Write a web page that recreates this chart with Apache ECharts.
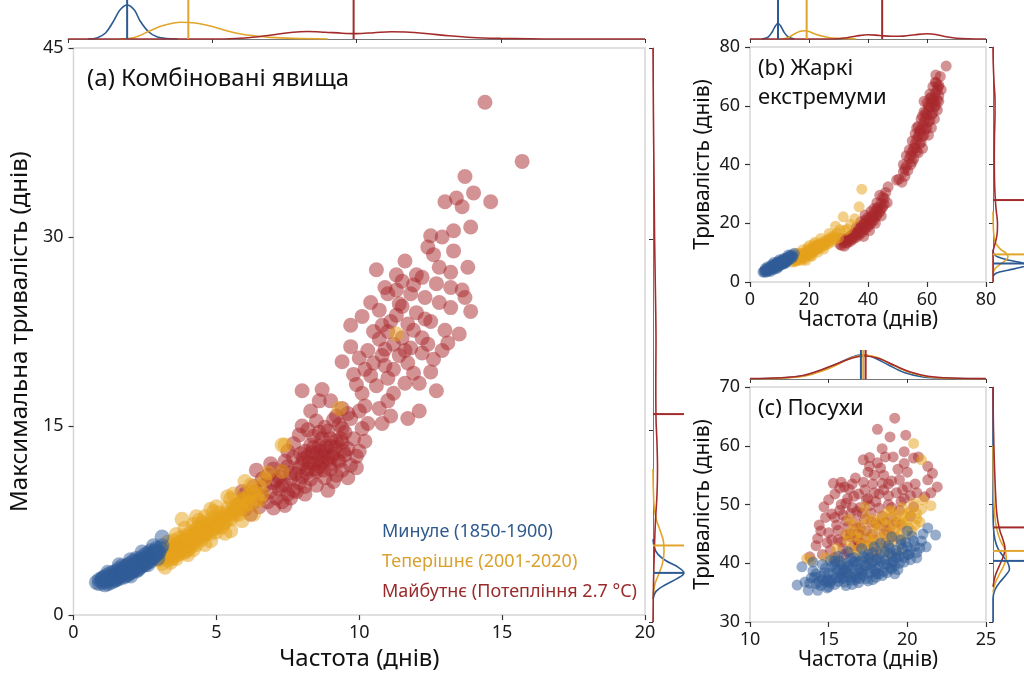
<!DOCTYPE html>
<html><head><meta charset="utf-8">
<script src="https://cdn.jsdelivr.net/npm/echarts/dist/echarts.min.js"></script>
<style>html,body{margin:0;padding:0;background:#fff}#c{width:1024px;height:676px}</style>
</head><body><div id="c"></div><script>
// ---------------- DATA ----------------
const groupNames = ['Минуле (1850-1900)', 'Теперішнє (2001-2020)', 'Майбутнє (Потепління 2.7 °C)'];

// Panel (a) combined events: [frequency, max duration]
const aPast = [[0.8,2.6],[0.9,2.8],[1.0,2.9],[1.1,2.4],[1.1,3.0],[1.2,2.8],[1.2,3.2],[1.3,2.9],[1.3,3.3],[1.4,3.0],[1.4,3.4],[1.5,3.1],[1.5,3.5],[1.5,2.8],[1.6,3.3],[1.6,3.7],[1.7,3.2],[1.7,3.6],[1.7,3.9],[1.8,3.4],[1.8,3.8],[1.9,3.5],[1.9,4.0],[1.9,3.2],[2.0,3.7],[2.0,4.1],[2.0,3.4],[2.1,3.9],[2.1,4.3],[2.1,3.5],[2.2,3.8],[2.2,4.2],[2.2,4.5],[2.3,4.0],[2.3,4.4],[2.3,3.7],[2.4,4.2],[2.4,4.6],[2.4,3.9],[2.5,4.4],[2.5,4.8],[2.5,4.0],[2.6,4.5],[2.6,4.9],[2.6,4.2],[2.7,4.7],[2.7,4.3],[2.7,5.1],[2.8,4.6],[2.8,5.0],[2.9,4.8],[2.9,5.3],[3.0,5.0],[3.1,5.5],[3.1,6.2],[1.2,2.5],[1.6,2.9],[2.0,3.1],[1.0,2.6],[1.3,2.6],
 [0.9,2.5],[1.0,2.8],[1.05,3.0],[1.15,2.7],[1.25,3.0],[1.35,3.1],[1.45,3.2],[1.45,2.8],[1.55,3.3],[1.55,3.0],[1.65,3.5],[1.65,3.1],[1.75,3.4],[1.75,3.0],[1.85,3.6],[1.85,3.9],[1.95,3.7],[1.95,3.3],[2.05,3.8],[2.05,3.5],[2.15,4.0],[2.15,3.7],[2.25,4.1],[2.25,3.6],[2.35,4.3],[2.35,3.9],[2.45,4.4],[2.45,4.0],[2.55,4.6],[2.55,4.2],[2.65,4.7],[2.65,4.4],[2.75,4.9],[2.75,4.5],[2.85,5.1],[2.85,4.7],[2.95,5.0],[2.95,4.5],[3.05,5.3],[1.4,2.7],[1.8,3.1],[2.2,3.5],[2.6,4.0],[2.0,4.4],[1.6,4.0],[2.4,5.0],[2.8,5.5],[1.2,3.4]];
const aPresent = [[3.0,4.4],[3.1,4.1],[3.2,3.8],[3.2,4.7],[3.2,5.2],[3.3,4.4],[3.3,5.0],[3.4,4.8],[3.4,5.5],[3.5,4.6],[3.5,5.2],[3.5,5.9],[3.6,5.0],[3.6,5.6],[3.6,6.4],[3.7,4.9],[3.7,5.4],[3.7,6.1],[3.8,5.2],[3.8,5.8],[3.8,7.6],[3.9,5.5],[3.9,6.3],[3.9,5.0],[4.0,5.7],[4.0,6.2],[4.0,5.2],[4.0,4.8],[4.1,6.0],[4.1,6.6],[4.1,5.4],[4.2,5.8],[4.2,6.4],[4.2,7.2],[4.3,6.1],[4.3,6.8],[4.3,5.6],[4.3,7.8],[4.4,6.3],[4.4,7.0],[4.5,6.0],[4.5,6.6],[4.5,7.3],[4.6,6.4],[4.6,7.0],[4.6,5.6],[4.6,7.8],[4.7,6.7],[4.7,7.4],[4.8,6.5],[4.8,7.1],[4.8,8.4],[4.9,6.9],[4.9,7.7],[5.0,7.2],[5.0,6.6],[5.0,8.6],[5.1,7.5],[5.1,8.1],[5.2,7.0],[5.2,7.8],[5.3,7.4],[5.4,7.9],[5.4,8.5],[5.4,9.4],[5.5,7.6],[5.5,6.7],[5.5,9.2],[5.6,8.2],[5.7,8.7],[5.8,8.0],[5.9,9.0],[5.9,7.5],[6.0,8.6],[6.0,10.6],[6.1,9.4],[6.2,8.9],[6.3,9.8],[6.3,8.0],[6.4,9.2],[6.5,10.2],[6.6,9.6],[6.7,10.8],[6.8,11.3],[3.4,4.2],[7.3,11.4],[7.3,13.5],[7.4,13.5],[9.3,16.4],[11.3,22.3],
 [3.15,4.6],[3.25,4.9],[3.35,5.3],[3.45,4.5],[3.55,5.5],[3.65,4.8],[3.75,5.8],[3.85,5.0],[3.95,6.0],[4.05,5.5],[4.15,6.3],[4.25,5.9],[4.35,6.6],[4.45,6.2],[4.55,6.9],[4.65,6.5],[4.75,7.2],[4.85,6.8],[4.95,7.4],[5.05,7.0],[5.15,7.7],[5.25,7.3],[5.35,8.1],[5.45,7.7],[5.55,8.4],[5.65,8.0],[5.75,8.8],[5.85,8.4],[5.95,9.2],[6.05,8.8],[6.15,9.6],[3.3,5.8],[3.9,6.9],[4.4,7.5],[4.9,8.2],[5.6,9.6],[3.6,4.5],[4.2,5.2],[4.8,5.9],[5.3,6.5],[6.2,10.3],[6.5,9.1]];
const aFuture = [[5.6,8.2],[5.8,8.8],[6.0,8.4],[6.1,9.3],[6.2,8.0],[6.3,9.0],[6.4,9.8],[6.5,8.6],[6.6,9.4],[6.7,10.3],[6.8,9.0],[6.8,11.1],[6.9,9.8],[7.0,8.5],[7.0,10.5],[7.1,9.3],[7.2,10.0],[7.2,11.0],[7.3,9.0],[7.3,11.4],[7.4,10.3],[7.5,9.6],[7.5,11.8],[7.6,10.8],[7.7,9.9],[7.7,12.5],[7.8,11.2],[7.8,9.8],[7.9,10.5],[8.0,12.0],[8.0,11.0],[8.0,15.0],[8.1,13.0],[8.1,10.2],[8.2,11.6],[8.2,12.6],[8.3,13.5],[8.3,10.8],[8.4,12.0],[8.4,14.2],[8.5,10.3],[8.5,11.4],[8.5,12.8],[8.5,15.4],[8.6,13.4],[8.6,11.8],[8.7,12.1],[8.7,14.0],[8.8,10.9],[8.8,13.0],[8.9,12.4],[8.9,14.6],[9.0,11.6],[9.0,13.4],[9.0,14.0],[9.1,12.8],[9.1,10.6],[9.2,11.1],[9.2,13.8],[9.3,12.2],[9.3,15.1],[9.4,13.7],[9.4,11.5],[9.5,12.7],[9.5,14.5],[9.6,13.2],[9.7,11.9],[9.7,15.6],[9.8,14.0],[9.9,11.7],[10.0,13.0],[10.1,14.8],[7.9,14.3],[7.5,13.0],[8.3,16.2],[8.6,17.0],[8.0,17.8],[9.0,17.0],[8.7,17.9],[9.4,16.4],[9.2,15.8],[10.3,15.2],[10.0,16.2],[6.4,11.5],[6.9,12.0],[5.9,9.8],[7.4,8.7],[8.9,9.9],[9.6,10.9],
 [7.1,10.7],[7.3,10.3],[7.6,11.3],[7.9,11.7],[8.05,12.4],[8.15,11.3],[8.25,12.1],[8.35,12.9],[8.45,11.6],[8.55,12.3],[8.65,13.0],[8.75,11.5],[8.75,12.6],[8.85,13.4],[8.95,12.0],[9.05,12.6],[9.15,13.3],[9.25,12.3],[9.35,14.0],[9.45,13.0],[8.6,14.5],[8.8,14.9],[9.1,15.5],[8.4,13.3],[7.95,12.8],[7.4,12.2],[6.6,10.8],[6.3,10.2],[6.0,9.6],[7.6,9.3],[8.1,9.6],[9.9,12.6],[9.4,14.8],[9.6,16.0],[10.2,13.8],[8.2,14.7],[7.0,11.6],[7.7,13.6],
 [14.4,40.7],[15.7,36.0],[13.7,34.8],[14.0,33.5],[13.0,32.8],[13.4,33.1],[13.6,32.4],[14.6,32.8],[13.3,30.5],[13.9,30.8],[12.5,30.1],[12.4,29.2],[13.3,28.9],[10.6,27.4],[11.6,28.1],[12.0,27.0],[12.8,27.6],[13.2,27.2],[12.7,26.3],[11.0,25.5],[11.3,25.8],[11.4,24.7],[12.3,25.2],[13.7,25.2],[13.2,24.4],[13.9,24.1],[13.6,25.8],[9.7,23.0],[10.1,23.7],[10.7,24.2],[11.7,23.1],[12.5,23.3],[13.0,22.6],[13.5,22.3],[13.1,21.6],[12.6,20.3],[12.2,20.8],[10.7,21.9],[10.9,21.1],[10.5,20.0],[9.7,21.3],[9.4,20.1],[9.8,19.1],[10.4,19.0],[11.2,19.5],[11.7,20.0],[11.6,18.4],[12.1,18.4],[12.7,17.8],[11.2,17.6],[10.6,18.2],[10.1,17.6],[11.1,15.8],[11.7,15.6],[12.1,16.2],[10.7,16.4],[10.2,16.6],
 [11.0,22.5],[11.2,21.5],[11.5,22.0],[11.8,21.2],[11.1,23.3],[11.4,20.6],[10.9,19.8],[11.9,22.6],[12.0,24.0],[11.5,24.5],[11.8,25.5],[12.2,22.0],[10.3,21.0],[10.0,20.4],[10.8,23.0],[12.4,21.5],[11.3,27.0],[12.6,28.6],[12.9,30.0],[11.9,26.2],
 [10.2,19.5],[10.5,22.5],[10.8,20.6],[11.0,18.8],[11.3,23.8],[11.6,21.0],[11.9,19.2],[12.3,23.5],[12.8,24.8],[12.2,26.8],[10.9,26.0],[12.9,21.0],[13.2,26.0],[11.5,26.5],[10.4,24.8],[12.5,19.3],[13.8,27.6],[11.0,17.0],[9.9,18.3],[10.8,15.2]];

// Panel (b) hot extremes: [frequency, duration]
const bPast = [[4.4,3.4],[5.0,3.8],[5.3,3.3],[5.6,4.3],[6.0,3.8],[6.2,4.6],[6.5,4.1],[6.8,5.0],[7.0,4.4],[7.3,5.3],[7.5,4.8],[7.8,5.6],[8.0,4.6],[8.2,5.9],[8.5,5.2],[8.7,6.2],[9.0,5.5],[9.2,6.5],[9.5,5.0],[9.6,6.0],[9.8,6.8],[10.0,5.6],[10.3,6.4],[10.5,7.2],[10.8,5.9],[11.0,6.8],[11.3,7.5],[11.5,6.2],[11.8,7.2],[12.0,8.0],[12.3,6.8],[12.5,7.7],[12.8,8.5],[13.0,7.3],[13.3,8.2],[13.6,9.0],[14.0,8.0],[14.3,9.3],[14.6,8.6],[15.0,9.8],[6.0,5.2],[8.0,6.6],[10.0,7.6],[12.0,6.4],[7.0,3.6],[9.0,4.6],
 [4.8,3.6],[5.5,4.0],[5.8,3.6],[6.3,4.3],[6.6,4.7],[6.9,4.1],[7.2,4.9],[7.6,5.2],[7.9,4.9],[8.3,5.5],[8.6,5.8],[8.9,5.2],[9.3,6.0],[9.6,5.4],[9.9,6.3],[10.2,5.9],[10.6,6.6],[10.9,6.2],[11.2,7.0],[11.6,6.8],[11.9,7.6],[12.2,7.2],[12.6,7.9],[13.2,7.8],[13.5,8.6],[14.2,8.7],[5.2,4.6],[7.4,5.9],[9.4,6.9],[11.4,8.0],[13.0,9.2],[8.1,4.3]];
const bPresent = [[14.2,6.8],[14.8,7.8],[15.3,6.9],[15.8,8.4],[16.2,7.3],[16.6,8.9],[17.0,7.8],[17.4,9.2],[17.8,8.3],[18.2,9.8],[18.5,8.0],[18.8,10.2],[19.2,8.8],[19.5,10.6],[19.8,9.3],[20.2,11.0],[20.5,9.6],[20.8,10.0],[21.2,11.5],[21.5,10.3],[21.8,12.0],[22.2,10.8],[22.5,12.4],[22.8,11.2],[23.2,12.8],[23.5,11.6],[24.0,13.2],[24.5,12.0],[25.0,13.7],[25.5,12.6],[26.0,14.3],[26.5,13.0],[27.0,15.0],[27.5,13.6],[28.0,15.7],[28.8,14.4],[29.5,16.7],[30.0,15.0],[31.6,22.2],[34.1,19.7],[37.9,31.6],[37.0,25.6],[33.0,18.0],[32.0,17.5],[16.0,9.8],[18.0,11.0],[20.0,12.3],[22.0,13.5],[24.0,14.8],[19.0,7.4],[21.0,8.8],[23.0,10.2],[25.0,11.2],
 [15.0,7.2],[15.6,7.6],[16.4,8.1],[17.2,8.5],[18.0,9.1],[18.7,9.3],[19.4,9.8],[20.0,10.2],[20.7,10.7],[21.4,11.0],[22.0,11.6],[22.6,11.9],[23.4,12.3],[24.2,12.6],[25.2,13.1],[26.2,13.6],[27.2,14.2],[28.4,15.0],[29.0,15.6],[16.8,9.8],[19.6,11.5],[21.6,12.8],[17.6,7.4],[20.6,8.9],[26.8,16.5],[30.5,17.8],[29.0,19.0],[35.5,21.5]];
const bFuture = [[30.5,12.8],[31.5,13.5],[32.0,12.2],[32.5,14.5],[33.0,13.2],[33.5,15.0],[34.0,13.8],[34.5,16.0],[35.0,14.6],[35.5,16.8],[36.0,15.2],[36.5,17.6],[37.0,16.0],[37.5,18.5],[38.0,16.8],[38.5,19.5],[39.0,17.8],[39.5,20.5],[40.0,18.8],[40.5,21.5],[41.0,20.0],[41.5,22.8],[42.0,21.0],[42.5,24.0],[43.0,22.5],[43.5,25.5],[44.0,24.0],[44.5,27.0],[45.0,25.5],[45.5,28.5],[44.0,29.5],[43.0,27.0],[42.0,25.0],[46.0,30.5],[41.0,24.0],[40.0,22.0],[39.0,21.0],[38.0,19.5],[37.0,18.8],[36.0,17.0],[35.0,16.5],[34.0,15.5],[33.0,15.0],[32.0,14.0],[31.0,14.8],[38.5,15.5],[40.5,17.5],[42.5,20.0],[44.5,22.5],[46.5,27.0],[46.8,32.4],
 [31.0,12.5],[32.5,13.4],[33.5,14.2],[34.5,14.7],[35.5,15.6],[36.5,16.4],[37.5,17.3],[38.5,18.2],[39.5,19.0],[40.5,19.8],[41.5,21.0],[42.5,22.4],[43.5,23.5],[44.5,25.0],[45.5,26.5],[39.0,22.8],[41.0,22.0],[43.0,24.8],[37.5,20.5],[36.0,18.5],[45.0,29.0],
 [49.7,34.7],[50.5,35.0],[51.5,34.0],[52.0,37.5],[52.5,36.0],[53.0,39.5],[53.5,38.0],[54.0,42.0],[54.5,40.0],[55.0,44.5],[55.5,42.0],[56.0,47.0],[56.5,44.5],[57.0,49.5],[57.5,47.0],[57.0,44.0],[58.0,52.0],[58.5,49.5],[58.0,47.5],[59.0,54.5],[59.5,52.0],[59.0,50.0],[60.0,57.0],[60.5,54.5],[60.0,52.5],[61.0,59.5],[61.5,57.0],[61.0,55.0],[62.0,62.0],[62.5,59.5],[62.0,57.5],[63.0,64.5],[63.5,62.0],[63.0,60.0],[64.0,67.0],[64.0,63.5],[62.0,66.5],[63.0,70.5],[64.5,70.0],[66.5,73.5],[61.0,64.0],[60.0,61.0],[59.0,58.0],[58.0,55.5],[57.0,53.0],[56.0,50.5],[55.0,48.0],[54.0,45.0],[53.0,43.0],[52.0,40.0],[56.5,52.5],[58.5,45.5],[60.5,50.0],[61.5,52.5],[62.5,55.5],[63.5,58.5],[64.0,61.5],[59.0,61.5],
 [52.5,38.5],[54.5,43.0],[55.5,45.5],[56.5,48.5],[57.5,50.5],[58.5,53.0],[59.5,55.5],[60.5,58.5],[61.5,61.0],[62.5,63.0],[63.5,65.5],[62.8,68.0],[61.5,63.0],[60.5,60.0],[59.5,57.5],[58.5,56.5],[57.5,51.5],[56.0,45.5],[55.0,41.0],[61.0,62.5],[62.5,61.0],[63.8,66.5],[64.8,65.5],[63.2,67.8]];

// Panel (c) droughts: [frequency, duration]
const cPast = [[13.0,36.3],[13.3,39.4],[13.7,35.4],[13.9,37.5],[14.0,38.7],[14.2,36.5],[14.3,35.4],[14.5,37.8],[14.6,39.8],[14.8,36.8],[15.0,38.3],[15.1,40.5],[15.2,37.2],[15.4,36.4],[15.5,39.0],[15.6,41.2],[15.7,37.6],[15.9,38.6],[16.0,36.8],[16.1,40.0],[16.2,42.0],[16.3,37.8],[16.5,39.2],[16.6,41.0],[16.7,37.2],[16.9,38.6],[17.0,40.4],[17.1,42.5],[17.2,37.9],[17.4,39.6],[17.5,41.5],[17.6,38.4],[17.8,40.2],[17.9,42.8],[18.0,37.6],[18.2,39.5],[18.3,41.6],[18.5,38.6],[18.6,40.6],[18.8,43.0],[18.9,39.2],[19.0,41.2],[19.2,38.2],[19.3,42.2],[19.5,40.0],[19.6,44.0],[19.8,41.0],[20.0,42.8],[20.2,40.6],[20.4,43.8],[20.6,41.8],[20.8,42.6],[21.0,45.0],[21.3,46.0],[21.8,44.8],[16.0,39.0],[17.0,39.0],[18.0,39.0],[15.0,36.0],[16.5,36.4],[17.5,37.0],[14.0,40.2],[19.0,44.5],[20.0,45.5],
 [14.4,36.9],[14.7,38.4],[14.9,37.3],[15.3,38.1],[15.6,36.9],[15.8,39.7],[16.2,38.4],[16.4,37.1],[16.8,39.8],[17.1,38.3],[17.3,40.9],[17.7,39.1],[18.1,40.8],[18.4,37.9],[18.7,39.8],[19.1,40.3],[19.4,38.9],[19.7,42.5],[20.1,41.5],[20.5,42.9],[15.2,39.5],[16.4,40.8],[17.8,41.8],[18.6,42.0],[19.9,43.6],[20.9,43.8],[16.8,37.6],[15.9,37.4],[17.9,38.6],[19.3,40.9],[14.1,37.6],[18.3,43.4],[15.7,40.4],[20.3,44.6],[16.6,38.2],[13.5,36.8],[14.9,35.8],[18.9,41.7],[17.2,41.2],
 [14.2,38.2],[14.5,36.2],[14.8,39.2],[15.1,36.6],[15.4,39.8],[15.5,37.5],[15.8,38.2],[16.1,36.2],[16.2,39.3],[16.5,37.6],[16.7,40.3],[16.9,36.7],[17.2,38.8],[17.4,37.4],[17.6,40.0],[17.8,37.2],[18.0,40.5],[18.2,38.2],[18.5,39.9],[18.7,38.4],[19.0,40.0],[19.2,39.6],[19.5,41.2],[19.8,40.2],[20.2,42.2],[20.6,40.9],[15.0,37.0],[16.0,37.6],[17.0,37.4],[18.0,38.2],[19.0,39.0],[16.3,39.6],[17.3,39.6],[18.3,40.4],[19.3,41.6],[15.6,38.8],[14.6,37.2],[13.8,36.6],[20.0,41.5],[18.9,42.6],[17.6,41.0],[16.6,40.2],[15.4,40.4],[21.2,42.8],[19.6,43.2]];
const cPresent = [[13.6,40.8],[13.9,40.5],[14.8,41.0],[15.5,42.5],[15.8,40.2],[16.2,43.8],[16.5,45.5],[16.8,42.2],[17.0,44.0],[17.2,46.5],[17.4,42.8],[17.6,44.8],[17.8,47.5],[18.0,43.2],[18.2,45.8],[18.4,48.0],[18.5,42.4],[18.7,46.5],[18.9,44.2],[19.0,49.0],[19.2,45.5],[19.4,47.5],[19.6,43.8],[19.8,46.8],[20.0,48.5],[20.2,48.8],[20.4,50.2],[20.6,48.5],[20.8,47.0],[21.0,50.8],[21.5,49.8],[20.4,60.4],[20.9,57.6],[16.0,38.5],[17.5,40.5],[18.8,41.5],[19.5,42.0],[20.3,45.5],[17.3,49.5],[16.3,47.5],
 [16.9,41.2],[17.6,42.1],[18.3,44.2],[18.9,45.2],[19.5,46.2],[19.9,44.8],[17.9,46.3],[18.6,47.4],[19.3,48.2],[20.0,47.2],[16.7,44.6],[18.0,41.3],[20.5,46.5],[19.7,49.5],[15.3,40.8],[17.1,43.1],
 [16.4,42.5],[17.0,45.2],[17.7,43.6],[18.1,47.0],[18.6,44.6],[19.1,46.8],[19.5,44.8],[20.1,46.0],[17.4,47.8],[18.8,48.8],[19.8,48.0],[16.1,45.0],[18.3,42.8],[19.0,43.5],[20.6,47.6],[20.9,49.2],[17.8,44.2],[16.6,46.6]];
const cFuture = [[13.8,41.1],[14.2,43.0],[14.5,45.5],[14.8,47.8],[15.0,50.8],[15.2,44.0],[15.3,53.6],[15.5,46.5],[15.7,49.0],[15.9,42.5],[16.0,53.0],[16.1,47.2],[16.2,51.0],[16.4,44.5],[16.5,49.5],[16.7,54.5],[16.8,46.0],[16.9,51.8],[17.0,43.5],[17.1,48.5],[17.2,57.6],[17.3,52.5],[17.4,45.5],[17.5,55.5],[17.6,49.8],[17.7,47.0],[17.8,53.5],[17.9,44.0],[18.0,50.5],[18.1,57.1],[18.1,62.8],[18.3,56.2],[18.4,48.0],[18.5,52.5],[18.6,58.1],[18.7,45.5],[18.8,50.0],[18.9,61.5],[19.0,54.0],[19.1,58.1],[19.2,64.7],[19.3,47.0],[19.5,54.2],[19.6,50.5],[19.7,52.5],[19.9,61.8],[20.0,55.5],[20.2,51.5],[20.4,57.9],[20.7,58.1],[21.1,51.3],[21.3,54.2],[21.6,55.3],[21.9,53.0],[20.5,53.5],[16.0,41.5],[16.6,43.0],[15.6,44.0],[18.2,46.5],[17.0,46.0],[19.0,49.5],[14.6,41.5],[15.1,42.2],[15.4,41.0],[16.3,41.8],[16.9,42.8],[17.5,43.0],[18.0,42.0],[18.6,43.5],[19.2,44.5],[17.8,45.0],[16.4,45.0],[15.8,43.6],
 [15.4,47.8],[16.8,48.8],[17.4,50.8],[18.2,51.8],[18.8,53.5],[19.4,56.0],[16.3,52.6],[17.9,55.0],[15.8,50.0],[19.8,57.0],[20.6,52.0],[14.3,44.2],[16.1,44.8],[17.3,44.3],[18.5,45.0],[19.6,46.5],[20.4,49.6],[21.5,52.0],[18.4,59.5],[17.6,56.5],
 [14.4,46.5],[14.7,49.6],[15.0,45.2],[15.2,48.4],[15.4,51.8],[15.6,45.6],[15.7,52.8],[15.9,48.2],[16.1,50.2],[16.2,46.2],[16.4,48.5],[16.6,51.4],[16.7,47.0],[16.9,45.0],[17.0,49.5],[17.2,53.8],[17.3,47.5],[17.5,51.0],[17.7,48.5],[17.9,52.0],[18.0,46.8],[18.2,49.4],[18.4,53.6],[18.6,47.0],[18.8,51.5],[19.0,47.8],[19.3,52.0],[19.5,49.0],[19.8,51.0],[20.0,53.0],[16.5,53.5],[17.6,58.0],[15.8,53.8],[18.5,55.0],[19.8,59.0],[21.3,56.5],[14.9,43.5],[16.8,44.0],[18.9,46.0],[20.2,48.0]];

// Marginal densities (relative height), [value, density]
const aTopPast = [[0.7,0],[1.0,1],[1.3,6],[1.56,17],[1.8,29],[2.05,34],[2.3,29],[2.5,18],[2.8,7],[3.1,2],[3.4,0.5],[3.8,0]];
const aTopPresent = [[1.8,0],[2.3,1.5],[2.85,8.3],[3.3,13.5],[3.9,16.7],[4.4,16],[5.0,12.5],[5.5,8.3],[6.0,5],[6.5,3],[7.0,1.6],[7.8,0.6],[9,0]];
const aTopFuture = [[0,0],[5.0,0],[5.8,0.5],[6.5,2],[7.2,4.5],[7.8,6.8],[8.3,7.5],[8.9,6.8],[9.5,5.8],[10.0,5.4],[10.6,6.3],[11.2,7.3],[11.7,7],[12.4,5.5],[13.2,3.2],[14.0,1.5],[15.0,0.6],[16,0.2],[17,0],[20,0]];
const aRightPast = [[1.8,0],[2.4,3],[2.9,12],[3.4,24],[3.85,31],[4.3,25],[4.8,13],[5.3,5],[5.8,1.5],[6.5,0]];
const aRightPresent = [[2.0,0],[3.0,2],[3.8,6],[4.6,9.5],[5.5,11],[6.3,10.5],[7.2,7],[8.0,3.5],[9,1.2],[10.5,0.3],[12,0]];
const aRightFuture = [[0,0],[3,0.5],[6,1.5],[8,2.5],[10,4],[12,4.5],[14,4],[16,3],[19,2.8],[22,3],[25,2.6],[30,1.6],[35,1],[40,0.4],[45,0]];
const bTopPast = [[4,0],[6,1.5],[7.5,7],[8.5,12.5],[9.5,15.7],[10.5,12.5],[11.5,7],[13,2],[15,0]];
const bTopPresent = [[11,0],[13,1.5],[15,5],[17,7.8],[18.5,8.3],[20,7.5],[22,5],[25,2.5],[28,1],[32,0.4],[36,0]];
const bTopFuture = [[0,0],[28,0],[32,1],[36,3],[40,4.3],[44,3.5],[48,2.7],[52,2.9],[56,4.3],[60,5.3],[63,4.5],[66,2.5],[70,0.8],[74,0.2],[80,0]];
const bRightPast = [[2,0],[3,3],[4,15],[5,28],[5.8,34],[6.6,28],[7.5,15],[8.5,5],[9.5,1],[11,0]];
const bRightPresent = [[3,0],[4.5,2],[6,7],[7.5,13],[8.6,15],[9.8,13],[11,8],[12.5,4],[14,1.8],[17,0.6],[20,0.2],[24,0]];
const bRightFuture = [[0,0],[10,0],[13,2],[16,4],[20,4.5],[25,3],[30,2],[35,1.5],[42,1.3],[50,1.5],[57,2],[62,2],[68,1],[75,0.2],[80,0]];
const cTopPast = [[10,0.3],[12,1],[13.5,3.5],[14.5,8.5],[15.5,15],[16.5,22],[17.1,24.3],[17.8,22],[18.8,14],[19.8,6.5],[21,2],[22.5,0.6],[25,0.2]];
const cTopPresent = [[10,0.3],[12,0.8],[13.5,3],[14.5,7.5],[15.5,14],[16.5,21.5],[17.3,24],[18.1,21.5],[19.0,14.5],[20.0,7.5],[21.2,2.5],[22.5,0.8],[25,0.3]];
const cTopFuture = [[10,0.5],[12,1.2],[13.5,4],[14.5,9],[15.5,15],[16.5,21],[17.3,23],[18.2,20.5],[19.2,13.5],[20.2,7],[21.3,2.8],[22.8,1],[25,0.4]];
const cRightPast = [[30,0],[34,0],[35.5,2],[36.8,7],[38,13],[39,16.5],[40,15],[41,11],[42.5,5],[44,2],[46,0.5],[50,0],[70,0]];
const cRightPresent = [[35,0],[36.5,2],[38,6],[39.5,10.5],[41,13.3],[42.5,11.5],[44,7],[46,3.5],[48,1.8],[51,0.8],[55,0.3],[60,0]];
const cRightFuture = [[36,0],[38,2.5],[40,7.5],[41.5,11],[42.6,12],[44,10],[45.5,7],[47,5],[49,3.5],[52,2.5],[55,1.8],[58,1.2],[62,0.6],[66,0.2],[70,0]];

// Medians [past, present, future]
const aMedX = [2.05, 4.17, 9.9],  aMedY = [3.85, 6.0, 16.3];
const bMedX = [9.5, 19.2, 44.8],  bMedY = [6.3, 9.4, 27.9];
const cMedX = [17.05, 17.2, 17.35], cMedY = [40.4, 42.1, 46.1];

// Axis ranges [min, max, interval]
const aXR = [0, 20, 5], aYR = [0, 45, 15];
const bXR = [0, 80, 20], bYR = [0, 80, 20];
const cXR = [10, 25, 5], cYR = [30, 70, 10];

// Texts
const titleA = '(a) Комбіновані явища';
const titleB = '(b) Жаркі\nекстремуми';
const titleC = '(c) Посухи';
const xName = 'Частота (днів)';
const yNameA = 'Максимальна тривалість (днів)';
const yNameBC = 'Тривалість (днів)';

// ---------------- STYLE / LAYOUT ----------------
const FONT = '"Noto Sans", "Open Sans", sans-serif';
const COLS = ['#2f5c97', '#e5a11a', '#a8282c'];
const LINECOLS = ['#2c5a93', '#e0a52a', '#a32b2b'];
const TEXTCOLS = ['#2f5a8e', '#d9a12e', '#9a2a2a'];
const ZSCAT = [6, 4, 2];

const panels = [
  {main:{left:68, top:48, width:577, height:574}, topM:{top:0, height:39}, rightM:{left:653, width:31},
   xr:aXR, yr:aYR, size:15, pts:[aPast,aPresent,aFuture], top:[aTopPast,aTopPresent,aTopFuture], right:[aRightPast,aRightPresent,aRightFuture],
   medX:aMedX, medY:aMedY, xName:xName, yName:yNameA, nameSize:24, nameGapY:35},
  {main:{left:750, top:47, width:236, height:235}, topM:{top:0, height:39}, rightM:{left:993, width:31},
   xr:bXR, yr:bYR, size:11, pts:[bPast,bPresent,bFuture], top:[bTopPast,bTopPresent,bTopFuture], right:[bRightPast,bRightPresent,bRightFuture],
   medX:bMedX, medY:bMedY, xName:xName, yName:yNameBC, nameSize:21, nameGapY:36},
  {main:{left:750, top:387, width:236, height:235}, topM:{top:350, height:29}, rightM:{left:993, width:31},
   xr:cXR, yr:cYR, size:11, pts:[cPast,cPresent,cFuture], top:[cTopPast,cTopPresent,cTopFuture], right:[cRightPast,cRightPresent,cRightFuture],
   medX:cMedX, medY:cMedY, xName:xName, yName:yNameBC, nameSize:21, nameGapY:36}
];

const grid = [], xAxis = [], yAxis = [], series = [];
const tick = {show:true, length:5, lineStyle:{color:'#333', width:1.2}};
const lbl = {fontSize:18, color:'#1a1a1a', fontFamily:FONT};

panels.forEach(p => {
  const gi = grid.length;
  grid.push(Object.assign({show:true, borderColor:'#d6d6d6', borderWidth:1.5, containLabel:false}, p.main));
  xAxis.push({gridIndex:gi, type:'value', min:p.xr[0], max:p.xr[1], interval:p.xr[2],
    axisLine:{show:false}, axisTick:tick, splitLine:{show:false}, axisLabel:Object.assign({margin:9}, lbl),
    name:p.xName, nameLocation:'middle', nameGap:28, nameTextStyle:{fontSize:p.nameSize, color:'#111', fontFamily:FONT}});
  yAxis.push({gridIndex:gi, type:'value', min:p.yr[0], max:p.yr[1], interval:p.yr[2],
    axisLine:{show:false}, axisTick:tick, splitLine:{show:false}, axisLabel:Object.assign({margin:10}, lbl),
    name:p.yName, nameLocation:'middle', nameGap:p.nameGapY, nameRotate:90, nameTextStyle:{fontSize:p.nameSize, color:'#111', fontFamily:FONT}});
  p.pts.forEach((d, k) => series.push({type:'scatter', xAxisIndex:gi, yAxisIndex:gi, data:d, symbolSize:p.size,
    itemStyle:{color:COLS[k], opacity:0.5}, silent:true, z:ZSCAT[k]}));

  const ti = grid.length;
  grid.push({left:p.main.left, width:p.main.width, top:p.topM.top, height:p.topM.height, containLabel:false});
  xAxis.push({gridIndex:ti, type:'value', min:p.xr[0], max:p.xr[1], interval:p.xr[2], position:'bottom',
    axisLine:{show:true, lineStyle:{color:'#777', width:1}}, axisTick:{show:true, length:4, lineStyle:{color:'#333'}},
    axisLabel:{show:false}, splitLine:{show:false}});
  yAxis.push({gridIndex:ti, type:'value', min:0, max:p.topM.height, show:false});
  p.top.forEach((d, k) => series.push({type:'line', xAxisIndex:ti, yAxisIndex:ti, data:d, smooth:0.35, showSymbol:false,
    lineStyle:{color:LINECOLS[k], width:1.6}, silent:true, clip:true, z:2+k}));
  p.medX.forEach((m, k) => series.push({type:'line', xAxisIndex:ti, yAxisIndex:ti, data:[[m,0],[m,p.topM.height]], showSymbol:false,
    lineStyle:{color:LINECOLS[k], width:2}, silent:true, z:5+k}));

  const ri = grid.length;
  grid.push({left:p.rightM.left, width:p.rightM.width, top:p.main.top, height:p.main.height, containLabel:false});
  xAxis.push({gridIndex:ri, type:'value', min:0, max:p.rightM.width, show:false});
  yAxis.push({gridIndex:ri, type:'value', min:p.yr[0], max:p.yr[1], interval:p.yr[2], position:'left',
    axisLine:{show:true, lineStyle:{color:'#777', width:1}}, axisTick:{show:true, length:4, lineStyle:{color:'#333'}},
    axisLabel:{show:false}, splitLine:{show:false}});
  p.right.forEach((d, k) => series.push({type:'line', xAxisIndex:ri, yAxisIndex:ri, data:d.map(v => [v[1], v[0]]), smooth:0.35, showSymbol:false,
    lineStyle:{color:LINECOLS[k], width:1.6}, silent:true, clip:true, z:2+k}));
  p.medY.forEach((m, k) => series.push({type:'line', xAxisIndex:ri, yAxisIndex:ri, data:[[0,m],[p.rightM.width,m]], showSymbol:false,
    lineStyle:{color:LINECOLS[k], width:2}, silent:true, z:5+k}));
});

const graphic = [
  {type:'text', left:87, top:65, style:{text:titleA, fontSize:24, fontFamily:FONT, fill:'#111', lineHeight:29}},
  {type:'text', left:758, top:54, style:{text:titleB, fontSize:22, fontFamily:FONT, fill:'#111', lineHeight:29}},
  {type:'text', left:758, top:394, style:{text:titleC, fontSize:22, fontFamily:FONT, fill:'#111', lineHeight:29}}
];
groupNames.forEach((t, k) => graphic.push({type:'text', left:382, top:520 + k*30,
  style:{text:t, fontSize:18, fontFamily:FONT, fill:TEXTCOLS[k], lineHeight:24}}));

const chart = echarts.init(document.getElementById('c'), null, {renderer:'canvas'});
chart.setOption({animation:false, backgroundColor:'#fff', textStyle:{fontFamily:FONT},
  grid, xAxis, yAxis, series, graphic});
</script></body></html>
